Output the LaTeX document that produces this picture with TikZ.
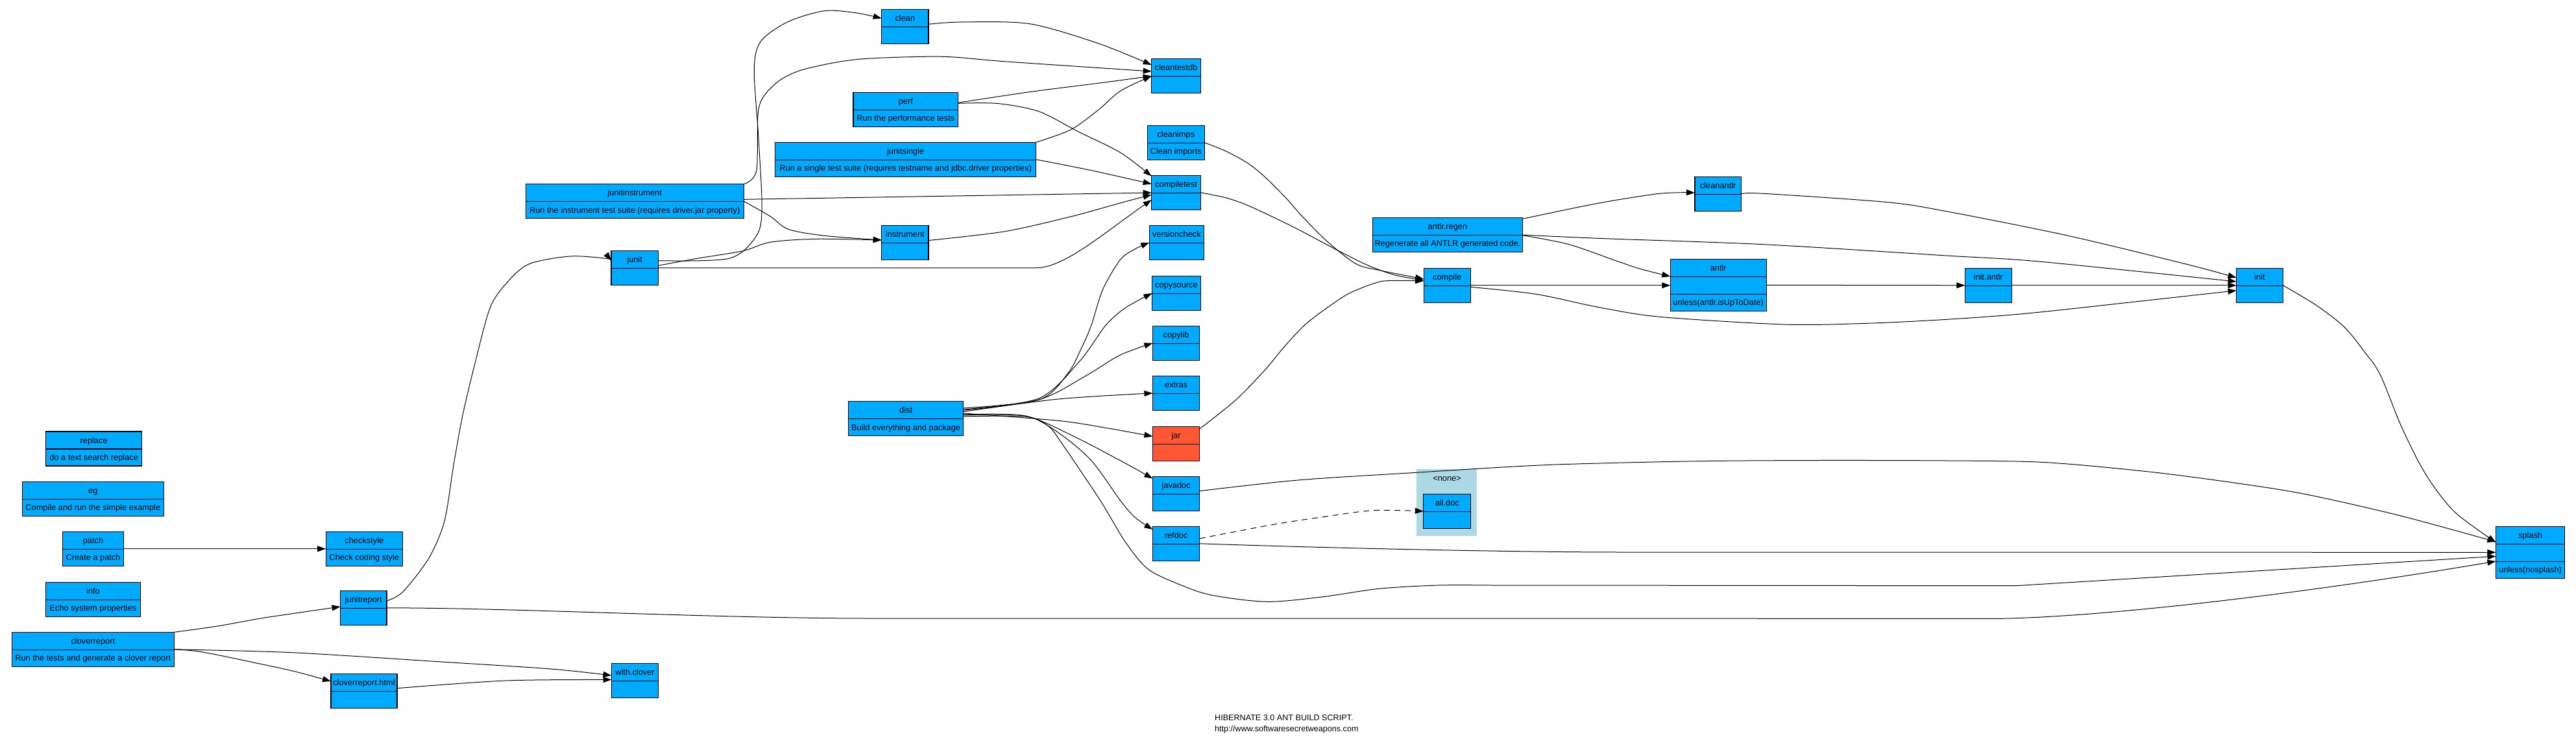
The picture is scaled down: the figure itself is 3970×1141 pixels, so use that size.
\documentclass[tikz,border=0pt]{standalone}
\usepackage{fontspec}
\setmainfont{Liberation Sans}
\usetikzlibrary{arrows.meta,calc}
\definecolor{boxblue}{RGB}{0,170,255}
\definecolor{jarred}{RGB}{255,87,51}
\definecolor{clusterblue}{RGB}{173,216,230}
\tikzset{
  tb/.style={draw=black, line width=1.2pt, inner sep=0pt, outer sep=0pt},
  tbsep/.style={draw=black, line width=1.2pt},
  tbtext/.style={inner sep=0pt, text height=9.2pt, text depth=0pt, font=\fontsize{12.8}{15}\selectfont},
  dep/.style={line width=1pt, -{Triangle[length=13pt,width=9pt]}},
  optdep/.style={dep, dash pattern=on 9pt off 7pt},
  cluster/.style={fill=clusterblue, draw=none, inner sep=0pt, outer sep=0pt},
  titletext/.style={inner sep=0pt, font=\fontsize{12.6}{15}\selectfont}
}
% #1 name, #2 left x, #3 top y, #4 width, #5 title, #6 description, #7 fill
\newcommand{\tbox}[7]{%
  \node[tb, fill=#7, minimum width=#4pt, minimum height=53pt, anchor=north west] (#1) at (#2,#3) {};
  \draw[tbsep] ([yshift=-27pt]#1.north west) -- ([yshift=-27pt]#1.north east);
  \node[tbtext] (#1-t) at ([yshift=-13.5pt]#1.north) {#5};
  \node[tbtext] (#1-d) at ([yshift=-40pt]#1.north) {#6};
}
\newcommand{\tboxiii}[7]{%
  \node[tb, fill=#7, minimum width=#4pt, minimum height=80pt, anchor=north west] (#1) at (#2,#3) {};
  \draw[tbsep] ([yshift=-27pt]#1.north west) -- ([yshift=-27pt]#1.north east);
  \draw[tbsep] ([yshift=-54pt]#1.north west) -- ([yshift=-54pt]#1.north east);
  \node[tbtext] (#1-t) at ([yshift=-13.5pt]#1.north) {#5};
  \node[tbtext] (#1-d) at ([yshift=-67pt]#1.north) {#6};
}
\begin{document}
\begin{tikzpicture}[x=1pt,y=-1pt]
\useasboundingbox (0,0) rectangle (3970,1141);

% cluster
\node[cluster, minimum width=93.4pt, minimum height=102.7pt, anchor=north west] (none) at (2183,723) {};
\node[tbtext] (none-t) at (2230,737.3) {<none>};

% boxes
\tbox{clean}{1358.7}{14.3}{72.3}{clean}{}{boxblue}
\tbox{cleantestdb}{1774.7}{90.3}{75.8}{cleantestdb}{}{boxblue}
\tbox{perf}{1315}{142.3}{161.6}{perf}{Run the performance tests}{boxblue}
\tbox{cleanimps}{1768.4}{193.3}{87.9}{cleanimps}{Clean imports}{boxblue}
\tbox{junitsingle}{1194.6}{219.3}{402}{junitsingle}{Run a single test suite (requires testname and jdbc.driver properties)}{boxblue}
\tbox{compiletest}{1774.7}{270.3}{75.8}{compiletest}{}{boxblue}
\tbox{junitinstrument}{810.2}{283.7}{336}{junitinstrument}{Run the instrument test suite (requires driver.jar property)}{boxblue}
\tbox{antlrregen}{2115.2}{335.3}{231.4}{antlr.regen}{Regenerate all ANTLR generated code.}{boxblue}
\tbox{cleanantlr}{2612}{272.3}{71.3}{cleanantlr}{}{boxblue}
\tbox{instrument}{1358.7}{347.3}{72.3}{instrument}{}{boxblue}
\tbox{versioncheck}{1771.3}{347.3}{84.1}{versioncheck}{}{boxblue}
\tbox{junit}{942}{386.3}{72.3}{junit}{}{boxblue}
\tbox{compile}{2194.2}{413.3}{72}{compile}{}{boxblue}
\tboxiii{antlr}{2574.3}{399.3}{147.9}{antlr}{unless(antlr.isUpToDate)}{boxblue}
\tbox{initantlr}{3028.4}{413.3}{71.8}{init.antlr}{}{boxblue}
\tbox{init}{3446.6}{413.3}{71.8}{init}{}{boxblue}
\tbox{copysource}{1775.5}{425.5}{75}{copysource}{}{boxblue}
\tbox{copylib}{1776.4}{502.3}{72.4}{copylib}{}{boxblue}
\tbox{extras}{1776.4}{579.4}{72.4}{extras}{}{boxblue}
\tbox{dist}{1307.7}{618.5}{176.8}{dist}{Build everything and package}{boxblue}
\tbox{jar}{1776.4}{657.5}{72.4}{jar}{}{jarred}
\tbox{javadoc}{1776.4}{734.2}{72.4}{javadoc}{}{boxblue}
\tbox{alldoc}{2193.8}{761.3}{72.9}{all.doc}{}{boxblue}
\tbox{refdoc}{1776.4}{811.3}{72.4}{refdoc}{}{boxblue}
\tboxiii{splash}{3846.4}{811.3}{106.3}{splash}{unless(nosplash)}{boxblue}
\tbox{replace}{70.5}{665}{148.3}{replace}{do a text search replace}{boxblue}
\tbox{eg}{34.4}{742.3}{217.8}{eg}{Compile and run the simple example}{boxblue}
\tbox{patch}{96.4}{819.3}{94.2}{patch}{Create a patch}{boxblue}
\tbox{checkstyle}{502.2}{819.3}{118.3}{checkstyle}{Check coding style}{boxblue}
\tbox{info}{70.5}{897.3}{146}{info}{Echo system properties}{boxblue}
\tbox{junitreport}{524.6}{910.3}{71.4}{junitreport}{}{boxblue}
\tbox{cloverreport}{18.3}{974.3}{250}{cloverreport}{Run the tests and generate a clover report}{boxblue}
\tbox{cloverhtml}{510}{1038.3}{102}{cloverreport.html}{}{boxblue}
\tbox{withclover}{942.5}{1022.3}{72}{with.clover}{}{boxblue}

% edges
\draw[dep] (patch.east) -- (checkstyle.west);
\draw[dep] plot[smooth] coordinates {(cloverreport.north east) (335,965) (402,953) (469,943) (junitreport.west |- 0,935)};
\draw[dep] plot[smooth] coordinates {(cloverreport.east) (312.5,1005) (401.8,1023.3) (455,1035) (cloverhtml.west |- 0,1050)};
\draw[dep] plot[smooth] coordinates {(cloverreport.east) (450,1005.7) (680,1020) (850,1031) (withclover.west |- 0,1041)};
\draw[dep] plot[smooth] coordinates {(cloverhtml.east |- 0,1060.7) (779,1049) (withclover.west |- 0,1047.5)};
\draw[dep] plot[smooth] coordinates {(junitreport.east |- 0,926) (621,912) (661,860) (685,803) (699,717) (713,640) (732,560) (755,475) (780,437) (815,407) (878,395) (931,398) (junit.west |- 0,401.7)};
\draw[dep] (junitreport.east) .. controls (800,937) and (1100,953) .. (1345,953) -- (3085,953.3) .. controls (3250,950) and (3550,915) .. (splash.west |- 0,865);
\draw[dep] plot[smooth] coordinates {(junit.east |- 0,401.7) (1123.7,398.3) (1165.8,363.3) (1174.2,320) (1169,213) (1162.3,106.7) (1172.8,63.3) (1215,33.3) (1271,16.7) (1320,20) (clean.west |- 0,28.3)};
\draw[dep] plot[smooth] coordinates {(junitinstrument.north east) (1165.8,263.3) (1169.3,166.7) (1193.9,130) (1229,110) (1285,96.7) (1341,90) (1453.4,87.3) (1551.7,95) (cleantestdb.west |- 0,110)};
\draw[dep] plot[smooth] coordinates {(junit.east |- 0,409.3) (1074.6,398.3) (1144.8,386.7) (1186.9,373.3) (1257,368.3) (instrument.west |- 0,370)};
\draw[dep] (junit.east) -- (1597,412.8) .. controls (1640,412.8) and (1700,360) .. (compiletest.west |- 0,308);
\draw[dep] (junitinstrument.east |- 0,307.3) -- (compiletest.west |- 0,297);
\draw[dep] plot[smooth] coordinates {(junitinstrument.east) (1186.9,333.3) (1215,353.3) (1271,363.3) (instrument.west |- 0,370)};
\draw[dep] plot[smooth] coordinates {(clean.east |- 0,37.3) (1481.5,34) (1586.7,36.7) (1692,66.7) (cleantestdb.west |- 0,100)};
\draw[dep] plot[smooth] coordinates {(perf.east |- 0,158.3) (1586.7,141.7) (1692,128.3) (cleantestdb.west |- 0,117.3)};
\draw[dep] plot[smooth] coordinates {(perf.east |- 0,159.3) (1537.6,159.5) (1600.8,171.7) (1662,203) (1726.4,235) (compiletest.west |- 0,271.5)};
\draw[dep] plot[smooth] coordinates {(junitsingle.north east) (1650,200) (1692,170) (1727,140) (cleantestdb.west |- 0,117.3)};
\draw[dep] plot[smooth] coordinates {(junitsingle.east) (1681.8,262.6) (compiletest.west |- 0,283.5)};
\draw[dep] plot[smooth] coordinates {(instrument.east |- 0,370.5) (1548,356.8) (1650.5,333.8) (1726,313) (compiletest.west |- 0,300)};
\draw[dep] plot[smooth] coordinates {(compiletest.east) (1890,305) (1923.3,316.7) (1973.3,340) (2006.7,356.7) (2056.7,383.3) (2106.7,408.3) (2150,424) (compile.west |- 0,432)};
\draw[dep] plot[smooth] coordinates {(cleanimps.east) (1890,233.3) (1923.3,251.7) (1950,273.3) (1983.3,306.7) (2006.7,333.3) (2046.7,373.3) (2090,406.7) (2126.7,416.7) (compile.west |- 0,430)};
\draw[dep] plot[smooth] coordinates {(jar.north east |- 0,661) (1905,616) (1949.6,570) (1980,533.5) (2011.7,500) (2046.7,473.3) (2080,451.7) (2123.3,435) (2150,432.3) (compile.west |- 0,433)};
\draw[dep] (compile.east) -- (antlr.west |- compile.east);
\draw[dep] plot[smooth] coordinates {(compile.east |- 0,442.3) (2367,453.3) (2462.7,473.3) (2558,488.3) (2749.6,500) (2877,498.3) (3000,492.3) (3124,483) (3309,463) (init.west |- 0,447.7)};
\draw[dep] plot[smooth] coordinates {(antlrregen.east |- 0,337.3) (2462.7,313.3) (2558,298.3) (cleanantlr.west |- 0,297)};
\draw[dep] plot[smooth] coordinates {(antlrregen.east |- 0,362) (2462.7,367.3) (2717.8,376.7) (3000,394) (3142,403) (init.west |- 0,434)};
\draw[dep] plot[smooth] coordinates {(antlrregen.east |- 0,362.7) (2418,376.7) (2494.5,403.3) (2530,415) (antlr.west |- 0,426)};
\draw[dep] plot[smooth] coordinates {(cleanantlr.east) (2717.8,298.3) (2909,311.7) (3000,325.8) (3185.6,362.9) (3371,407.5) (init.west |- 0,428)};
\draw[dep] (antlr.east) -- (initantlr.west);
\draw[dep] (initantlr.east) -- (init.west);
\draw[dep] plot[smooth] coordinates {(init.east) (3569,470) (3612.4,503.5) (3643.4,541.4) (3668,577) (3699,653) (3727,711) (3751.6,751) (3785.6,791.4) (splash.west |- 0,836)};
\draw[dep] plot[smooth] coordinates {(javadoc.east |- 0,756.7) (2000,740) (2182,728.3) (2380,716.7) (2600,711) (2800,709.5) (3000,710) (3150,712.5) (3309,726.7) (3450,745) (3556.8,762.4) (3700,795) (splash.west |- 0,835)};
\draw[optdep] plot[smooth] coordinates {(refdoc.east |- 0,830) (1962.7,808.3) (2039,796.7) (2115.7,786.7) (alldoc.west)};
\draw[dep] (refdoc.east) .. controls (2000,843) and (2300,851) .. (2506,851) -- (splash.west);
% dist fan
\draw[dep] plot[smooth] coordinates {(dist.east |- 0,629) (1601.5,616) (1646,575) (1668,533.5) (1682,501) (1699.6,446) (1726.4,400.4) (1748.8,384) (versioncheck.west)};
\draw[dep] plot[smooth] coordinates {(dist.east |- 0,631) (1601,614) (1664,556.5) (1704,501.4) (1735,474) (copysource.west)};
\draw[dep] plot[smooth] coordinates {(dist.east |- 0,632.3) (1601,616) (1673,579.4) (1726,547.3) (copylib.west)};
\draw[dep] plot[smooth] coordinates {(dist.east |- 0,634.5) (1631,615) (extras.west)};
\draw[dep] plot[smooth] coordinates {(dist.east |- 0,637) (1631,648.3) (1707.6,660) (jar.west |- 0,672.5)};
\draw[dep] plot[smooth] coordinates {(dist.east |- 0,639) (1580,641) (1656.5,673.3) (1733,713.3) (javadoc.west |- 0,737.5)};
\draw[dep] plot[smooth] coordinates {(dist.east |- 0,640) (1580,641) (1631,666.7) (1682,710) (1728,773.3) (1750,798) (refdoc.west |- 0,816)};
\draw[dep] plot[smooth] coordinates {(dist.east |- 0,642) (1580,642) (1615.7,656.7) (1641,690) (1697,773.3) (1733,833.3) (1768.8,876.7) (1820,901.7) (1868,917.3) (1952,927.3) (2037,920) (2125,907.3) (2216,902) (2300,902)} -- (3107,902.7) -- (splash.west |- 0,857.3);

% title
\node[titletext, anchor=base west] (ttl1) at (1872,1110) {HIBERNATE 3.0 ANT BUILD SCRIPT.};
\node[titletext, anchor=base west] (ttl2) at (1872,1127) {http://www.softwaresecretweapons.com};
\end{tikzpicture}
\end{document}
